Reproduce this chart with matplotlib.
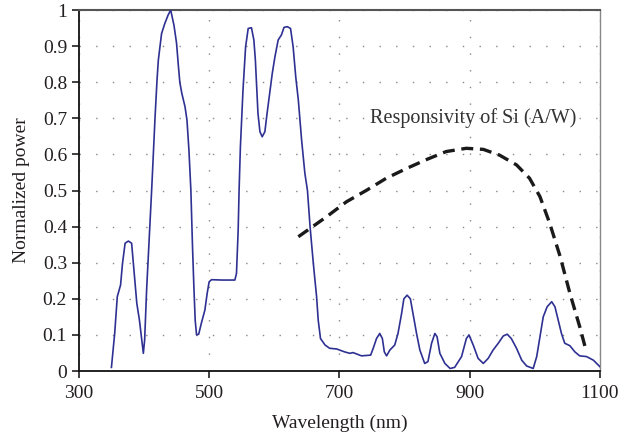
import matplotlib
matplotlib.use("Agg")
import matplotlib.pyplot as plt

# Spectrum (normalized power)
wl = [350, 355, 359, 364, 367, 371, 376, 381, 383, 386, 389, 393, 396, 399, 401, 404, 409, 412,
      417, 420, 422, 427, 432, 437, 441, 446, 450, 452.5, 455, 458, 463, 466, 469, 472,
      474.5, 476.6, 478.6, 480.7, 484, 488, 493.5, 497, 500, 503.7, 520, 539.5, 542, 544.6,
      546, 548, 552, 556, 560, 565, 568.7, 571, 573, 575, 578, 581.5, 585.6, 589, 593, 597,
      601, 606, 611, 615, 620, 625, 629, 633, 637, 642, 647, 651, 655, 660, 665, 667.5, 671,
      678, 685, 696, 708, 716, 721, 734, 748, 752, 757, 762, 766, 769, 772.5, 777.5, 785,
      790, 795.6, 799, 804, 809, 813, 818.5, 823.6, 831, 836, 841.6, 846.6, 850, 854.3, 862,
      870, 877, 887.6, 895, 899, 905.5, 913, 921, 928.5, 936, 944, 951.6, 957.7, 964, 972,
      980, 987.5, 997.6, 1003, 1008, 1013, 1019, 1026, 1031, 1036, 1041, 1046, 1054, 1061.6,
      1069, 1079.5, 1090, 1100]
power = [0.01, 0.104, 0.206, 0.238, 0.298, 0.354, 0.36, 0.354, 0.312, 0.252, 0.187, 0.141, 0.095,
         0.049, 0.086, 0.224, 0.40, 0.51,
         0.704, 0.806, 0.861, 0.935, 0.963, 0.986, 1.0, 0.958, 0.908, 0.852, 0.80, 0.77, 0.732,
         0.695, 0.612, 0.50,
         0.344, 0.233, 0.141, 0.10, 0.102, 0.132, 0.169, 0.215, 0.247, 0.253, 0.252, 0.252, 0.27,
         0.39,
         0.50, 0.62, 0.778, 0.898, 0.949, 0.951, 0.917, 0.862, 0.788, 0.714, 0.663, 0.649, 0.663,
         0.714, 0.769, 0.825,
         0.87, 0.917, 0.931, 0.952, 0.954, 0.949, 0.898, 0.815, 0.75, 0.64, 0.548, 0.50, 0.40,
         0.298, 0.206, 0.141, 0.09,
         0.072, 0.063, 0.061, 0.053, 0.049, 0.051, 0.042, 0.044, 0.063, 0.09, 0.104, 0.09, 0.053,
         0.042, 0.058, 0.072,
         0.104, 0.16, 0.20, 0.21, 0.20, 0.16, 0.104, 0.058, 0.021, 0.026, 0.077, 0.104, 0.095,
         0.049, 0.021,
         0.007, 0.01, 0.04, 0.09, 0.10, 0.072, 0.035, 0.021, 0.035, 0.058, 0.077, 0.097, 0.102,
         0.09, 0.063,
         0.03, 0.014, 0.007, 0.04, 0.095, 0.15, 0.178, 0.192, 0.178, 0.141, 0.104, 0.077, 0.07,
         0.053,
         0.042, 0.04, 0.03, 0.012]

# Responsivity of Si (A/W)
resp_wl = [637, 655, 680, 711, 742, 772, 803, 834, 864, 895, 921, 946, 972, 992, 1008, 1023,
           1039, 1054, 1069, 1077]
resp = [0.372, 0.395, 0.427, 0.469, 0.501, 0.534, 0.561, 0.586, 0.608, 0.617, 0.614, 0.598,
        0.571, 0.534, 0.483, 0.409, 0.317, 0.215, 0.123, 0.069]

xticks = [300, 500, 700, 900, 1100]
yticks = [0, 0.1, 0.2, 0.3, 0.4, 0.5, 0.6, 0.7, 0.8, 0.9, 1]
ytick_labels = ["0", "0.1", "0.2", "0.3", "0.4", "0.5", "0.6", "0.7", "0.8", "0.9", "1"]

plt.rcParams['font.family'] = ['Liberation Serif', 'DejaVu Serif']
txt = '#231f20'
fs = 14

fig = plt.figure(figsize=(6.21, 4.37), dpi=100)
ax = fig.add_axes([0.127, 0.151, 0.839, 0.826])

ax.plot(wl, power, color='#2e3192', lw=1.2, zorder=3)
ax.plot(resp_wl, resp, color='#1a1a1a', lw=2.4, dashes=(3.6, 2.0), zorder=4)

ax.set_xlim(300, 1100)
ax.set_ylim(0, 1)
ax.set_xticks(xticks)
ax.set_xticklabels([str(t) for t in xticks])
ax.set_yticks(yticks)
ax.set_yticklabels(ytick_labels)

ax.grid(True, color='#888888', linestyle=(0, (1, 11)), lw=1.0)

ax.tick_params(axis='both', direction='out', length=5, width=1.2, colors=txt,
               labelsize=fs, labelcolor=txt)
ax.tick_params(axis='x', pad=5)
for s in ['left', 'bottom']:
    ax.spines[s].set_color('#111111')
    ax.spines[s].set_linewidth(1.3)
ax.spines['top'].set_color('#555555')
ax.spines['top'].set_linewidth(1.5)
ax.spines['right'].set_color('#888888')
ax.spines['right'].set_linewidth(1.0)

ax.set_xlabel('Wavelength (nm)', fontsize=fs, color=txt, labelpad=9)
ax.set_ylabel('Normalized power', fontsize=fs, color=txt, labelpad=9)

ax.text(905, 0.70, 'Responsivity of Si (A/W)', fontsize=fs + 0.5, color='#333333',
        ha='center', va='center', zorder=5)

fig.savefig('out.png', dpi=100)
